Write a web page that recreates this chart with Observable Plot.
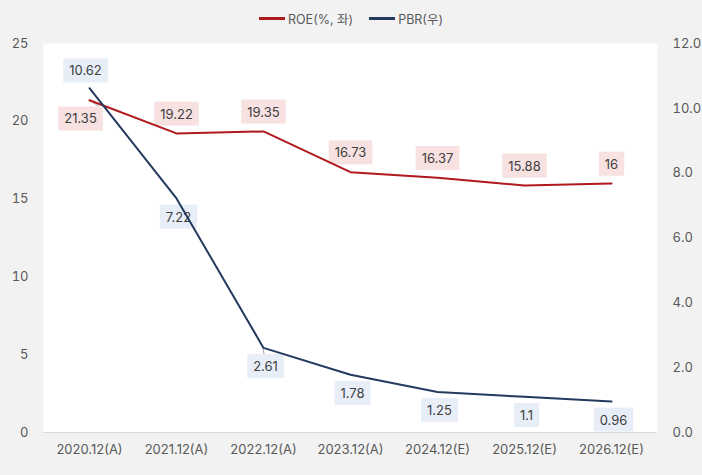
<!DOCTYPE html>
<html><head><meta charset="utf-8">
<script src="https://cdn.jsdelivr.net/npm/d3@7"></script>
<script src="https://cdn.jsdelivr.net/npm/@observablehq/plot@0.6"></script>
<style>
html,body{margin:0;padding:0;background:#f2f2f2;}
#wrap{width:702px;height:475px;font-family:Inter,"Noto Sans CJK KR",sans-serif;color:#595959;}
#legend{height:30px;display:flex;justify-content:center;align-items:center;font-size:12.5px;padding-top:6px;box-sizing:border-box;}
.item{display:flex;align-items:center;margin:0 8px;}
.sw{width:26px;height:3px;margin-right:3px;}
svg{display:block;}
</style></head>
<body>
<div id="wrap">
<div id="legend"></div>
<div id="chart"></div>
</div>
<script>
const categories = ["2020.12(A)","2021.12(A)","2022.12(A)","2023.12(A)","2024.12(E)","2025.12(E)","2026.12(E)"];
const roe = [21.35,19.22,19.35,16.73,16.37,15.88,16];
const pbr = [10.62,7.22,2.61,1.78,1.25,1.1,0.96];
const leftTicks = [0,5,10,15,20,25];
const rightTicks = [0,2,4,6,8,10,12];
const seriesNames = ["ROE(%, 좌)","PBR(우)"];

const RED = "#b0191e", BLUE = "#233a5e";
const k = 25/12;
const rows = categories.map((c,i)=>({cat:c, roe:roe[i], pbr:pbr[i], i}));

const legend = document.getElementById("legend");
[[seriesNames[0],RED],[seriesNames[1],BLUE]].forEach(([n,c])=>{
  const it=document.createElement("div");it.className="item";
  it.innerHTML=`<span class="sw" style="background:${c}"></span><span>${n}</span>`;
  legend.appendChild(it);
});

const chart = Plot.plot({
  width:702, height:445,
  marginLeft:43, marginRight:45, marginTop:13, marginBottom:43,
  x:{type:"point", domain:categories, padding:0.5, label:null},
  y:{domain:[0,25], label:null},
  style:{fontFamily:'Inter,"Noto Sans CJK KR",sans-serif', fontSize:"13px", color:"#595959", background:"transparent"},
  marks:[
    Plot.frame({fill:"white", stroke:null}),
    Plot.ruleY([0],{stroke:"#d9d9d9", strokeWidth:1}),
    Plot.axisX({tickSize:0, tickPadding:12, fontSize:13, label:null}),
    Plot.axisY(leftTicks,{anchor:"left", tickSize:0, tickPadding:15, fontSize:13, label:null}),
    Plot.axisY(rightTicks.map(t=>t*k),{anchor:"right", tickSize:0, tickPadding:15, fontSize:13, textAnchor:"start", label:null, tickFormat:d=>(d/k).toFixed(1)}),
    Plot.text(rows.filter(d=>d.i===0),{x:"cat", y:"roe", text:d=>String(d.roe), dx:-9, dy:19, fill:"#404040", fontSize:13}),
    Plot.text(rows.filter(d=>d.i>0),{x:"cat", y:"roe", text:d=>String(d.roe), dy:-19, fill:"#404040", fontSize:13}),
    Plot.text(rows.filter(d=>d.i===0),{x:"cat", y:d=>d.pbr*k, text:d=>String(d.pbr), dx:-4, dy:-17, fill:"#404040", fontSize:13}),
    Plot.text(rows.filter(d=>d.i>0),{x:"cat", y:d=>d.pbr*k, text:d=>String(d.pbr), dx:2, dy:19, fill:"#404040", fontSize:13}),
    Plot.line(rows,{x:"cat", y:"roe", stroke:RED, strokeWidth:2}),
    Plot.line(rows,{x:"cat", y:d=>d.pbr*k, stroke:BLUE, strokeWidth:2})
  ]
});
document.getElementById("chart").appendChild(chart);

const NS="http://www.w3.org/2000/svg";
// label background boxes
const groups = chart.querySelectorAll('g[aria-label="text"]');
const fills = ["#f7e1e1","#f7e1e1","#e8eef8","#e8eef8"];
const boxes = [];
groups.forEach((g,gi)=>{
  g.querySelectorAll("text").forEach(t=>{
    const b=t.getBBox();
    const r=document.createElementNS(NS,"rect");
    r.setAttribute("x",b.x-6); r.setAttribute("y",b.y-4);
    r.setAttribute("width",b.width+12); r.setAttribute("height",b.height+8);
    r.setAttribute("fill",fills[gi]);
    const tr=t.getAttribute("transform"); if(tr) r.setAttribute("transform",tr);
    g.insertBefore(r,t);
    boxes.push({gi, r});
  });
});
// leader lines for labels pushed off their points
const sx=chart.scale("x"), sy=chart.scale("y");
function leader(gi, idx, val){
  const box=[...groups[gi].querySelectorAll("rect")][0];
  const bb=box.getBoundingClientRect(), sb=chart.getBoundingClientRect();
  const px=sx.apply(categories[idx]), py=sy.apply(val);
  const l=document.createElementNS(NS,"line");
  let x2, y2;
  if (gi===0){ x2=bb.right-sb.left-4; y2=bb.top-sb.top; }
  else { x2=px+1; y2=bb.top-sb.top; }
  l.setAttribute("x1",px); l.setAttribute("y1",py);
  l.setAttribute("x2",x2); l.setAttribute("y2",y2);
  l.setAttribute("stroke","#a6a6a6"); l.setAttribute("stroke-width",1);
  chart.insertBefore(l, groups[0]);
}
leader(0,0,roe[0]);
// 2.61 label: third label of the fourth text group
(function(){
  const rects=[...groups[3].querySelectorAll("rect")];
  const bb=rects[1].getBoundingClientRect(), sb=chart.getBoundingClientRect();
  const px=sx.apply(categories[2]), py=sy.apply(pbr[2]*k);
  const l=document.createElementNS(NS,"line");
  l.setAttribute("x1",px); l.setAttribute("y1",py);
  l.setAttribute("x2",px+1); l.setAttribute("y2",bb.top-sb.top);
  l.setAttribute("stroke","#a6a6a6"); l.setAttribute("stroke-width",1);
  chart.insertBefore(l, groups[0]);
})();
</script>
</body></html>
